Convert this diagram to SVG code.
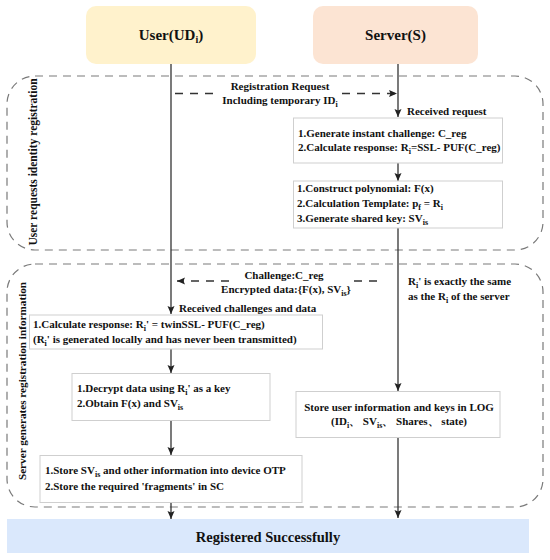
<svg xmlns="http://www.w3.org/2000/svg" width="550" height="560" viewBox="0 0 550 560">
<style>
text{font-family:"Liberation Serif","Times New Roman",serif;font-weight:bold;fill:#111;}
.t{font-size:11px;}
.h{font-size:15px;}
.lbl{font-size:11.5px;}
.sub{font-size:8px;}
.box{fill:#fff;stroke:#cfcfcf;stroke-width:1;}
.frame{fill:none;stroke:#7a7a7a;stroke-width:1.2;stroke-dasharray:8,6;}
.life{stroke:#333;stroke-width:1.3;fill:none;}
.dash{stroke:#333;stroke-width:1.3;fill:none;stroke-dasharray:8,7;}
</style>
<defs>
<marker id="ah" markerWidth="8" markerHeight="8" refX="8" refY="4" orient="auto" markerUnits="userSpaceOnUse">
<path d="M0,0.5 L8,4 L0,7.5 L1.5,4 z" fill="#222"/>
</marker>
</defs>
<rect x="0" y="0" width="550" height="560" fill="#fff"/>

<g id="phase1">
<rect class="frame" x="7" y="76" width="536" height="174" rx="28" ry="28"/>
<text class="lbl" text-anchor="middle" transform="translate(37,162) rotate(-90)">User requests identity registration</text>
</g>
<g id="phase2">
<rect class="frame" x="7" y="264" width="536" height="243" rx="28" ry="28"/>
<text class="lbl" style="font-size:11.2px" text-anchor="middle" transform="translate(26,381) rotate(-90)">Server generates registration information</text>
</g>

<g id="user">
<rect x="86" y="6" width="170" height="58" rx="10" ry="10" fill="#FFF2CC"/>
<text class="h" x="171" y="40" text-anchor="middle">User(UD<tspan class="sub" style="font-size:10px" dy="3">i</tspan><tspan dy="-3">)</tspan></text>
</g>
<g id="server">
<rect x="313" y="6" width="165" height="58" rx="10" ry="10" fill="#FCE4D3"/>
<text class="h" x="395.5" y="40" text-anchor="middle">Server(S)</text>
</g>

<g id="connectors">
<!-- user lifeline -->
<line class="life" x1="171" y1="64" x2="171" y2="314" marker-end="url(#ah)"/>
<line class="life" x1="171" y1="349" x2="171" y2="373" marker-end="url(#ah)"/>
<line class="life" x1="171" y1="420" x2="171" y2="455" marker-end="url(#ah)"/>
<line class="life" x1="171" y1="502" x2="171" y2="519" marker-end="url(#ah)"/>
<!-- server lifeline -->
<line class="life" x1="398" y1="64" x2="398" y2="117" marker-end="url(#ah)"/>
<line class="life" x1="398" y1="163" x2="398" y2="181" marker-end="url(#ah)"/>
<line class="life" x1="398" y1="228" x2="398" y2="391" marker-end="url(#ah)"/>
<line class="life" x1="398" y1="437" x2="398" y2="518" marker-end="url(#ah)"/>
<!-- registration request -->
<line class="dash" x1="175" y1="93.5" x2="213" y2="93.5"/>
<line class="dash" x1="342" y1="93.5" x2="397" y2="93.5" marker-end="url(#ah)"/>
<!-- challenge back -->
<line class="dash" x1="377" y1="281" x2="351" y2="281"/>
<line class="dash" x1="229" y1="281" x2="177" y2="281" stroke-dasharray="9,6" marker-end="url(#ah)"/>
</g>

<g id="msg1">
<text class="t" x="280" y="90" text-anchor="middle">Registration Request</text>
<text class="t" x="280" y="104" text-anchor="middle">Including temporary ID<tspan class="sub" dy="3">i</tspan></text>
</g>
<g id="recv1">
<text class="t" x="407" y="115">Received request</text>
</g>
<g id="box1">
<rect class="box" x="293.5" y="118" width="209" height="45"/>
<text class="t" x="298" y="137">1.Generate instant challenge: C_reg</text>
<text class="t" x="298" y="151">2.Calculate response: R<tspan class="sub" dy="3">i</tspan><tspan dy="-3">=SSL- PUF(C_reg)</tspan></text>
</g>
<g id="box2">
<rect class="box" x="293.5" y="181" width="209" height="47"/>
<text class="t" x="297" y="192">1.Construct polynomial: F(x)</text>
<text class="t" x="297" y="207">2.Calculation Template: p<tspan class="sub" dy="3">f</tspan><tspan dy="-3"> = R</tspan><tspan class="sub" dy="3">i</tspan></text>
<text class="t" x="297" y="222">3.Generate shared key: SV<tspan class="sub" dy="3">is</tspan></text>
</g>
<g id="msg2">
<text class="t" x="284" y="279" text-anchor="middle">Challenge:C_reg</text>
<text class="t" x="286" y="293" text-anchor="middle">Encrypted data:{F(x), SV<tspan class="sub" dy="3">is</tspan><tspan dy="-3">}</tspan></text>
</g>
<g id="note">
<text class="t" x="408" y="285">R<tspan class="sub" dy="3">i</tspan><tspan dy="-3">' is exactly the same</tspan></text>
<text class="t" x="408" y="300">as the R<tspan class="sub" dy="3">i</tspan><tspan dy="-3"> of the server</tspan></text>
</g>
<g id="recv2">
<text class="t" x="179" y="312">Received challenges and data</text>
</g>
<g id="box3">
<rect class="box" x="29.5" y="315" width="293" height="34"/>
<text class="t" x="33" y="328">1.Calculate response: R<tspan class="sub" dy="3">i</tspan><tspan dy="-3">' = twinSSL- PUF(C_reg)</tspan></text>
<text class="t" x="33" y="343">(R<tspan class="sub" dy="3">i</tspan><tspan dy="-3">' is generated locally and has never been transmitted)</tspan></text>
</g>
<g id="box4">
<rect class="box" x="72" y="373.5" width="198" height="47"/>
<text class="t" x="77" y="392">1.Decrypt data using R<tspan class="sub" dy="3">i</tspan><tspan dy="-3">' as a key</tspan></text>
<text class="t" x="77" y="407">2.Obtain F(x) and SV<tspan class="sub" dy="3">is</tspan></text>
</g>
<g id="box5">
<rect class="box" x="40" y="455.5" width="262" height="47"/>
<text class="t" x="45" y="474">1.Store SV<tspan class="sub" dy="3">is</tspan><tspan dy="-3"> and other information into device OTP</tspan></text>
<text class="t" x="45" y="490">2.Store the required 'fragments' in SC</text>
</g>
<g id="box6">
<rect class="box" x="296" y="391.5" width="204" height="46"/>
<text class="t" x="399" y="411" text-anchor="middle">Store user information and keys in LOG</text>
<text class="t" x="399" y="425" text-anchor="middle">(ID<tspan class="sub" dy="3">i</tspan><tspan dy="-3">、 SV</tspan><tspan class="sub" dy="3">is</tspan><tspan dy="-3">、 Shares、 state)</tspan></text>
</g>
<g id="done">
<rect x="7" y="519" width="522" height="34" fill="#DAE8FC"/>
<text x="268" y="542" text-anchor="middle" style="font-size:14.5px">Registered Successfully</text>
</g>
</svg>
